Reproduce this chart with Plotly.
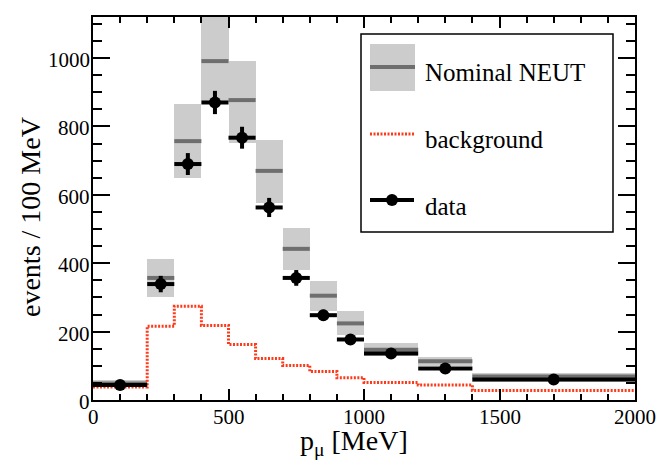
import plotly.graph_objects as go

# ---- data ----
bin_edges = [0, 200, 300, 400, 500, 600, 700, 800, 900, 1000, 1200, 1400, 2000]
data_vals = [44, 339, 690, 870, 767, 563, 357, 248, 177, 136, 92, 60]
data_errs = [8, 24, 32, 34, 32, 28, 23, 16, 13, 9, 7, 4]
nominal_vals = [48, 357, 757, 991, 877, 670, 442, 305, 224, 147, 113, 69]
band_lo = [37, 300, 649, 875, 751, 577, 379, 260, 190, 128, 99, 53]
band_hi = [59, 413, 865, 1120, 990, 760, 503, 349, 259, 168, 127, 78]
bkg_vals = [38, 216, 274, 218, 162, 121, 101, 83, 65, 51, 44, 28]
x_ticks = [0, 500, 1000, 1500, 2000]
y_ticks = [0, 200, 400, 600, 800, 1000]

FONT = "Liberation Serif"
OFF = 8  # page body margin
W, H = 670 - OFF, 462 - OFF
L, R, T, B = 93 - OFF, 35, 17 - OFF, 62

lo_edges = bin_edges[:-1]
hi_edges = bin_edges[1:]
centers = [(a + b) / 2 for a, b in zip(lo_edges, hi_edges)]
widths = [b - a for a, b in zip(lo_edges, hi_edges)]
halfw = [w / 2 for w in widths]

fig = go.Figure()

# uncertainty band
fig.add_trace(go.Bar(
    x=centers, y=[h - l for h, l in zip(band_hi, band_lo)], base=band_lo,
    width=widths, marker=dict(color="#cccccc", line=dict(width=0)),
    showlegend=False, hoverinfo="skip"))

# nominal lines
nx, ny = [], []
for a, b, v in zip(lo_edges, hi_edges, nominal_vals):
    nx += [a, b, None]
    ny += [v, v, None]
fig.add_trace(go.Scatter(x=nx, y=ny, mode="lines",
                         line=dict(color="#6e6e6e", width=4),
                         showlegend=False, hoverinfo="skip"))

# background step line
fig.add_trace(go.Scatter(x=bin_edges, y=bkg_vals + [bkg_vals[-1]], mode="lines",
                         line=dict(color="#ff3a1a", width=3, dash="2px,1.5px", shape="hv"),
                         showlegend=False, hoverinfo="skip"))

# data
fig.add_trace(go.Scatter(
    x=centers, y=data_vals, mode="markers",
    marker=dict(color="black", size=12),
    error_x=dict(type="data", array=halfw, color="black", thickness=4, width=0),
    error_y=dict(type="data", array=data_errs, color="black", thickness=4, width=0),
    showlegend=False, hoverinfo="skip"))

# ---- legend (drawn manually; positions in window pixels) ----
def px(xp):
    return (xp - OFF - L) / (W - L - R)

def py(yp):
    return (H - B - (yp - OFF)) / (H - T - B)

shapes = []
shapes.append(dict(type="rect", xref="paper", yref="paper",
                   x0=px(361), x1=px(613), y0=py(232), y1=py(34),
                   line=dict(color="black", width=1.5), fillcolor="white", layer="above"))
shapes.append(dict(type="rect", xref="paper", yref="paper",
                   x0=px(370), x1=px(415), y0=py(91), y1=py(44),
                   line=dict(width=0), fillcolor="#cccccc", layer="above"))
shapes.append(dict(type="line", xref="paper", yref="paper",
                   x0=px(370), x1=px(415), y0=py(67), y1=py(67),
                   line=dict(color="#6e6e6e", width=4), layer="above"))
shapes.append(dict(type="line", xref="paper", yref="paper",
                   x0=px(370), x1=px(414), y0=py(134), y1=py(134),
                   line=dict(color="#ff3a1a", width=3, dash="2px,1.5px"), layer="above"))
shapes.append(dict(type="line", xref="paper", yref="paper",
                   x0=px(370), x1=px(414), y0=py(200), y1=py(200),
                   line=dict(color="black", width=4), layer="above"))
shapes.append(dict(type="circle", xref="paper", yref="paper",
                   x0=px(386), x1=px(398), y0=py(206), y1=py(194),
                   line=dict(color="black", width=0), fillcolor="black", layer="above"))

annotations = []
for label, yc in [("Nominal NEUT", 73), ("background", 139.5), ("data", 206.5)]:
    annotations.append(dict(text=label, xref="paper", yref="paper",
                            x=px(423), y=py(yc), xanchor="left", yanchor="middle",
                            showarrow=False, font=dict(family=FONT, size=25, color="black")))
# axis titles
annotations.append(dict(text="p<sub>μ</sub> [MeV]", xref="paper", yref="paper",
                        x=px(354), y=py(423), xanchor="center", yanchor="top",
                        showarrow=False, font=dict(family=FONT, size=28, color="black")))
annotations.append(dict(text="events / 100 MeV", xref="paper", yref="paper",
                        x=px(31), y=py(217), xanchor="center", yanchor="middle", textangle=-90,
                        showarrow=False, font=dict(family=FONT, size=28, color="black")))
# tick labels placed through the axes' own scales
for v in x_ticks:
    annotations.append(dict(text=str(v), xref="x", yref="paper", x=v, y=0,
                            xanchor="center", yanchor="middle", yshift=-17,
                            showarrow=False, font=dict(family=FONT, size=21, color="black")))
for v in y_ticks:
    annotations.append(dict(text=str(v), xref="paper", yref="y", x=0, y=v,
                            xanchor="right", yanchor="middle", xshift=-1, yshift=-2,
                            showarrow=False, font=dict(family=FONT, size=21, color="black")))

fig.update_layout(
    width=W, height=H,
    margin=dict(l=L, r=R, t=T, b=B),
    paper_bgcolor="white", plot_bgcolor="white",
    shapes=shapes, annotations=annotations,
    barmode="overlay", bargap=0,
    font=dict(family=FONT, color="black"),
)
fig.update_xaxes(
    range=[0, 2000], tickvals=x_ticks, showticklabels=False,
    ticks="inside", ticklen=11, tickwidth=2, tickcolor="black",
    minor=dict(dtick=100, ticks="inside", ticklen=6, tickwidth=1.5, tickcolor="black"),
    showline=True, linewidth=2, linecolor="black", mirror="ticks",
    showgrid=False, zeroline=False,
    automargin=False,
)
fig.update_yaxes(
    range=[0, 1120], tickvals=y_ticks, showticklabels=False,
    ticks="inside", ticklen=17, tickwidth=2, tickcolor="black",
    minor=dict(dtick=50, ticks="inside", ticklen=9, tickwidth=1.5, tickcolor="black"),
    showline=True, linewidth=2, linecolor="black", mirror="ticks",
    showgrid=False, zeroline=False,
    automargin=False,
)

fig.write_html("out.html")
